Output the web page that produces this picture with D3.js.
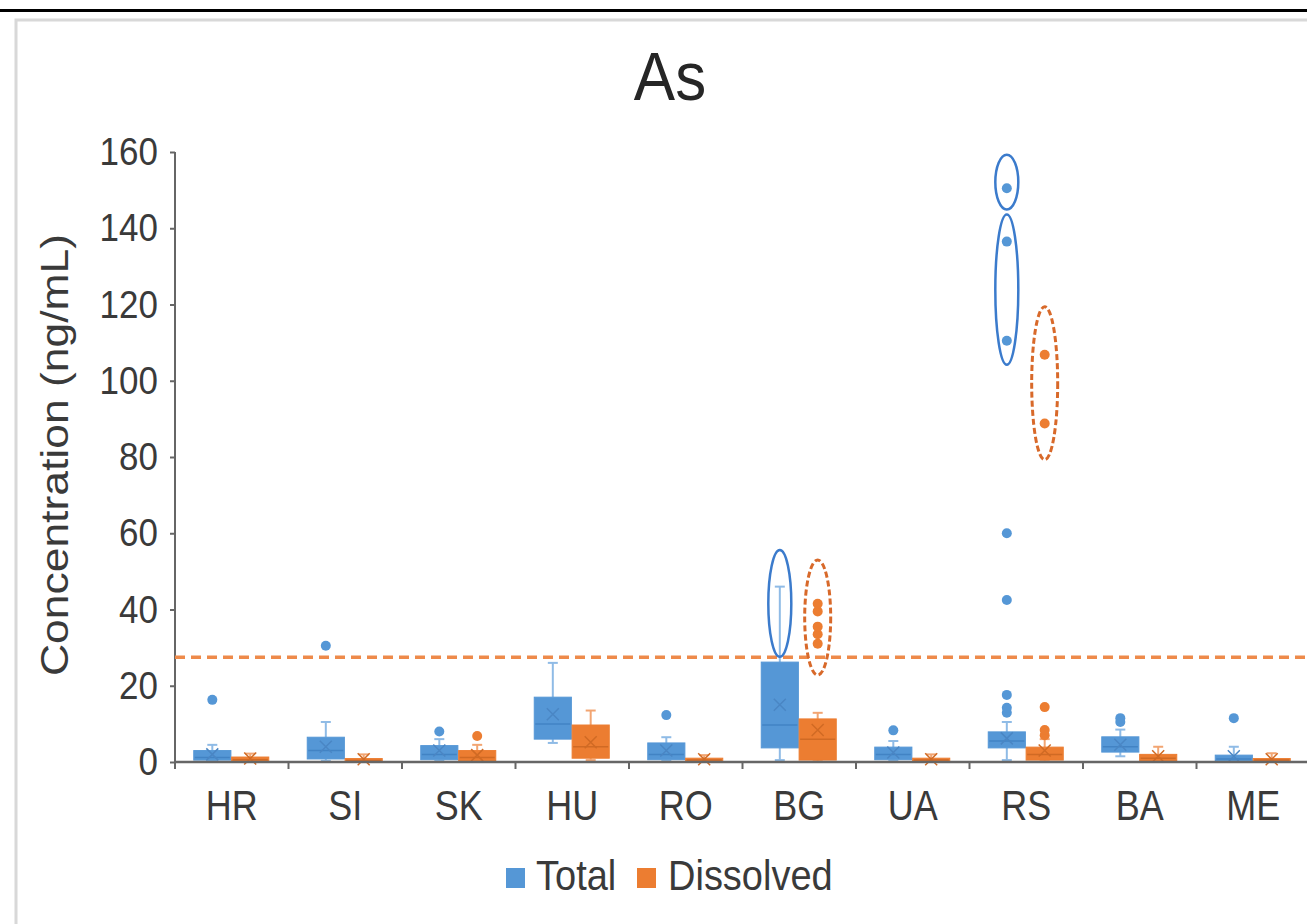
<!DOCTYPE html>
<html><head><meta charset="utf-8">
<script src="https://cdn.jsdelivr.net/npm/d3@7"></script>
<style>html,body{margin:0;padding:0;background:#fff;overflow:hidden}</style>
</head><body>
<svg id="chart" width="1307" height="924"></svg>
<script>
// ---------- data ----------
const categories = ["HR","SI","SK","HU","RO","BG","UA","RS","BA","ME"];
const seriesNames = ["Total","Dissolved"];
const yTicks = [0,20,40,60,80,100,120,140,160];
const chartTitle = "As";
const yTitle = "Concentration (ng/mL)";

// Total
const totalLow    = [0.3, 0.3, 0.3, 5.0, 0.3, 0.5, 0.3, 0.5, 1.5, 0.2];
const totalQ1     = [0.5, 0.8, 0.6, 6.0, 0.6, 3.7, 0.6, 3.7, 2.6, 0.3];
const totalMedian = [1.2, 3.0, 2.0, 10.0, 2.0, 9.7, 2.0, 5.5, 4.0, 0.8];
const totalQ3     = [3.0, 6.5, 4.3, 17.0, 5.0, 26.2, 3.9, 7.9, 6.6, 1.8];
const totalHigh   = [4.5, 10.5, 6.0, 26.0, 6.5, 46.0, 5.5, 10.5, 8.5, 4.0];
const totalMean   = [2.0, 4.0, 3.0, 12.5, 3.0, 15.0, 2.5, 6.2, 4.5, 1.5];
const totalOutliers = [[16.3],[30.5],[8.0],[],[12.3],[],[8.3],
  [12.9,14.2,17.6,42.5,60.0,110.5,136.5,150.5],[10.5,11.5],[11.5]];

// Dissolved
const dissolvedLow    = [0.1, 0.1, 0.1, 0.5, 0.1, 0.2, 0.1, 0.2, 0.2, 0.1];
const dissolvedQ1     = [0.2, 0.2, 0.4, 1.0, 0.2, 0.5, 0.2, 0.5, 0.4, 0.2];
const dissolvedMedian = [0.6, 0.4, 1.2, 4.0, 0.5, 6.0, 0.5, 2.0, 1.0, 0.5];
const dissolvedQ3     = [1.3, 0.9, 3.0, 9.7, 1.0, 11.3, 1.0, 3.9, 2.0, 0.9];
const dissolvedHigh   = [2.2, 2.0, 4.5, 13.5, 1.8, 12.9, 2.0, 6.0, 4.0, 2.3];
const dissolvedMean   = [0.9, 0.7, 1.8, 5.2, 0.7, 8.4, 0.7, 3.0, 1.5, 0.7];
const dissolvedOutliers = [[],[],[6.8],[],[],[31.0,33.5,35.5,39.5,41.5],[],
  [7.0,8.4,14.4,88.8,106.8],[],[]];

const thresholdValue = 27.5;

// highlighted groups of values (category, series, value range)
const highlightCats   = ["BG","BG","RS","RS","RS"];
const highlightSeries = ["Total","Dissolved","Total","Total","Dissolved"];
const highlightFrom   = [27.6, 22.8, 144.9, 104.2, 79.3];
const highlightTo     = [55.6, 53.0, 159.3, 143.6, 119.4];

// ---------- build ----------
const series = [
  {name:"Total", low:totalLow, q1:totalQ1, med:totalMedian, q3:totalQ3, high:totalHigh, mean:totalMean, out:totalOutliers,
   fill:"#5597d6", whisk:"#8fbbe6", medc:"#4283c4", meanc:"#4a86c4"},
  {name:"Dissolved", low:dissolvedLow, q1:dissolvedQ1, med:dissolvedMedian, q3:dissolvedQ3, high:dissolvedHigh, mean:dissolvedMean, out:dissolvedOutliers,
   fill:"#ec7d31", whisk:"#f2a572", medc:"#d06a24", meanc:"#d06a24"}
];
const colorOf = {Total:"#5597d6", Dissolved:"#ec7d31"};

const svg = d3.select("#chart");
const FONT = "'Liberation Sans', Arial, Helvetica, sans-serif";

// frame
svg.append("rect").attr("x",0).attr("y",0).attr("width",1307).attr("height",924).attr("fill","#fff");
svg.append("rect").attr("x",16).attr("y",20).attr("width",1400).attr("height",1000)
  .attr("fill","#fff").attr("stroke","#d8d8d8").attr("stroke-width",3);
svg.append("line").attr("x1",0).attr("x2",1307).attr("y1",10.5).attr("y2",10.5)
  .attr("stroke","#000").attr("stroke-width",3);

const x = d3.scaleBand().domain(categories).range([175, 1310]).padding(0);
const sub = d3.scaleBand().domain(seriesNames).range([-38, 37]).paddingInner(0.02);
const y = d3.scaleLinear().domain([0,160]).range([762,152]);

function stretchedText(g, tx, ty, sy, text, size, anchor){
  return g.append("text")
    .attr("transform",`translate(${tx},${ty}) scale(1,${sy})`)
    .attr("text-anchor",anchor).attr("font-family",FONT).attr("font-size",size)
    .attr("fill","#3a3a3a").text(text);
}

// title
stretchedText(svg, 670, 100, 1.12, chartTitle, 62, "middle").attr("fill","#262626");

// y axis
const yAxisG = svg.append("g").attr("transform","translate(175,0)")
  .call(d3.axisLeft(y).tickValues(yTicks).tickSize(5).tickPadding(0).tickFormat(""));
yAxisG.select(".domain").attr("stroke","#666").attr("stroke-width",2).attr("d","M0,152V762");
yAxisG.selectAll(".tick line").attr("stroke","#666").attr("stroke-width",2);
yTicks.forEach(v=>{
  stretchedText(svg, 158, y(v)+13, 1.1, String(v), 35, "end");
});

// y title
svg.append("text")
  .attr("transform",`translate(68,455) rotate(-90) scale(1.14,1)`)
  .attr("text-anchor","middle").attr("font-family",FONT).attr("font-size",39)
  .attr("fill","#3a3a3a").text(yTitle);

// threshold line
svg.append("line").attr("x1",175).attr("x2",1307).attr("y1",y(thresholdValue)).attr("y2",y(thresholdValue))
  .attr("stroke","#ee8a4a").attr("stroke-width",3.5).attr("stroke-dasharray","10,6");

// boxes
series.forEach(s=>{
  const g = svg.append("g");
  categories.forEach((c,i)=>{
    const cx = x(c) + x.bandwidth()/2 + sub(s.name);
    const w = sub.bandwidth();
    const mid = cx + w/2;
    // whiskers
    g.append("line").attr("x1",mid).attr("x2",mid).attr("y1",y(s.high[i])).attr("y2",y(s.q3[i]))
      .attr("stroke",s.whisk).attr("stroke-width",2);
    g.append("line").attr("x1",mid).attr("x2",mid).attr("y1",y(s.low[i])).attr("y2",y(s.q1[i]))
      .attr("stroke",s.whisk).attr("stroke-width",2);
    [s.high[i], s.low[i]].forEach(v=>{
      g.append("line").attr("x1",mid-5).attr("x2",mid+5).attr("y1",y(v)).attr("y2",y(v))
        .attr("stroke",s.whisk).attr("stroke-width",2);
    });
    // box
    g.append("rect").attr("x",cx).attr("width",w)
      .attr("y",y(s.q3[i])).attr("height",Math.max(1,y(s.q1[i])-y(s.q3[i])))
      .attr("fill",s.fill).attr("stroke",s.fill).attr("stroke-width",1);
    // median
    g.append("line").attr("x1",cx+1).attr("x2",cx+w-1).attr("y1",y(s.med[i])).attr("y2",y(s.med[i]))
      .attr("stroke",s.medc).attr("stroke-width",1.5);
    // mean X
    const my = y(s.mean[i]), d = 6;
    g.append("path").attr("d",`M${mid-d},${my-d}L${mid+d},${my+d}M${mid-d},${my+d}L${mid+d},${my-d}`)
      .attr("stroke",s.meanc).attr("stroke-width",1.5).attr("fill","none");
    // outliers
    s.out[i].forEach(v=>{
      g.append("circle").attr("cx",mid).attr("cy",y(v)).attr("r",5).attr("fill",s.fill);
    });
  });
});

// x axis
const xAxisG = svg.append("g").attr("transform","translate(0,762)");
xAxisG.append("line").attr("x1",175).attr("x2",1307).attr("y1",0).attr("y2",0)
  .attr("stroke","#666").attr("stroke-width",2.5);
categories.forEach(c=>{
  xAxisG.append("line").attr("x1",x(c)).attr("x2",x(c)).attr("y1",0).attr("y2",7)
    .attr("stroke","#666").attr("stroke-width",2);
  stretchedText(svg, x(c)+x.bandwidth()/2, 820, 1.18, c, 36, "middle");
});

// highlight ellipses
highlightCats.forEach((c,i)=>{
  const sname = highlightSeries[i];
  const cx = x(c) + x.bandwidth()/2 + sub(sname) + sub.bandwidth()/2;
  const y1 = y(highlightTo[i]), y2 = y(highlightFrom[i]);
  const dashed = sname === "Dissolved";
  svg.append("ellipse").attr("cx",cx).attr("cy",(y1+y2)/2)
    .attr("rx", dashed ? 13 : 11.5).attr("ry",(y2-y1)/2)
    .attr("fill","none")
    .attr("stroke", dashed ? "#d8692a" : "#3b7bcc")
    .attr("stroke-width", dashed ? 3 : 2.5)
    .attr("stroke-dasharray", dashed ? "6,3" : null);
});

// legend
const legendItems = [{name:"Total", sx:506, tx:536},{name:"Dissolved", sx:637, tx:668}];
legendItems.forEach(l=>{
  svg.append("rect").attr("x",l.sx).attr("y",868).attr("width",19).attr("height",20).attr("fill",colorOf[l.name]);
  stretchedText(svg, l.tx, 890, 1.1, l.name, 38, "start");
});
</script>
</body></html>
